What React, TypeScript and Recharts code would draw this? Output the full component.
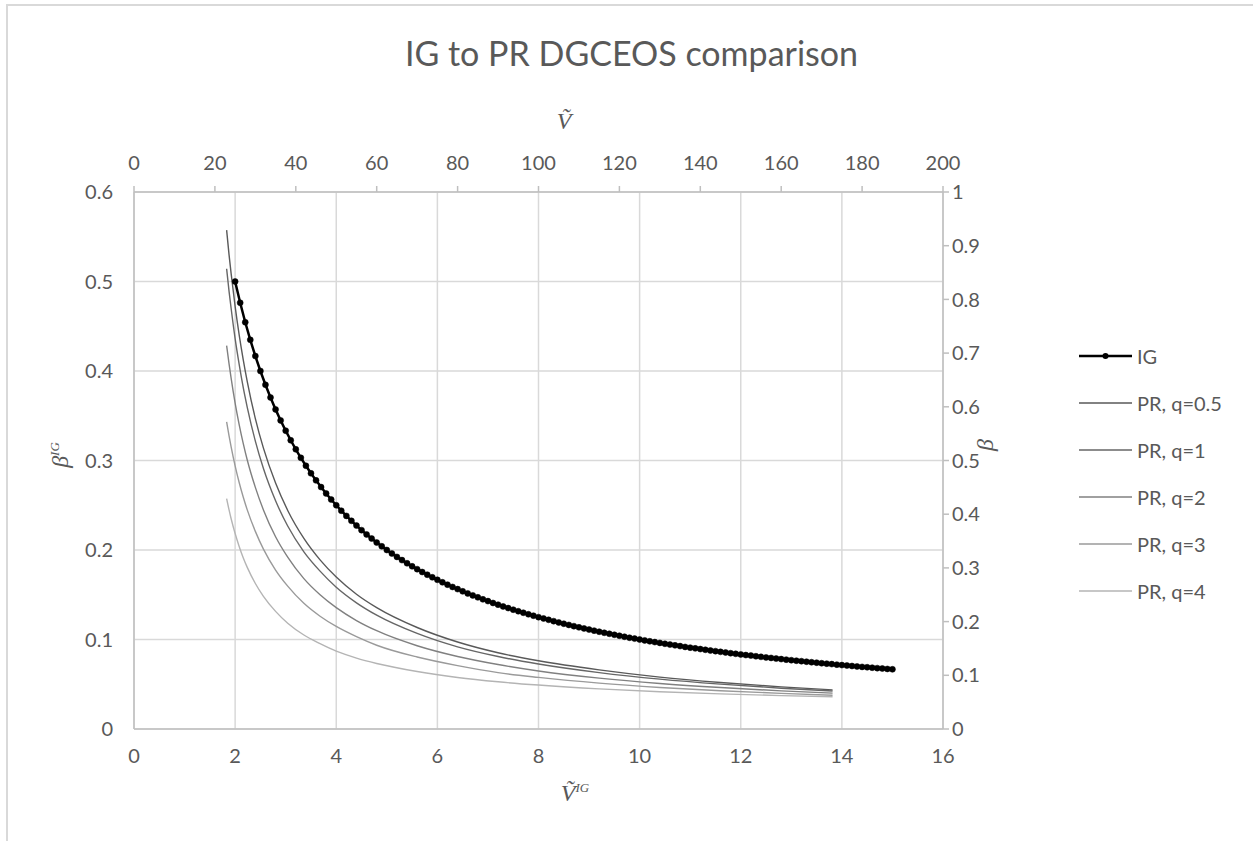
import { LineChart, Line, XAxis, YAxis, CartesianGrid } from "recharts";

// IG curve, bottom / left axes
const IG_V = [
  2.0, 2.1, 2.2, 2.3, 2.4, 2.5, 2.6, 2.7, 2.8, 2.9,
  3.0, 3.1, 3.2, 3.3, 3.4, 3.5, 3.6, 3.7, 3.8, 3.9,
  4.0, 4.1, 4.2, 4.3, 4.4, 4.5, 4.6, 4.7, 4.8, 4.9,
  5.0, 5.1, 5.2, 5.3, 5.4, 5.5, 5.6, 5.7, 5.8, 5.9,
  6.0, 6.1, 6.2, 6.3, 6.4, 6.5, 6.6, 6.7, 6.8, 6.9,
  7.0, 7.1, 7.2, 7.3, 7.4, 7.5, 7.6, 7.7, 7.8, 7.9,
  8.0, 8.1, 8.2, 8.3, 8.4, 8.5, 8.6, 8.7, 8.8, 8.9,
  9.0, 9.1, 9.2, 9.3, 9.4, 9.5, 9.6, 9.7, 9.8, 9.9,
  10.0, 10.1, 10.2, 10.3, 10.4, 10.5, 10.6, 10.7, 10.8, 10.9,
  11.0, 11.1, 11.2, 11.3, 11.4, 11.5, 11.6, 11.7, 11.8, 11.9,
  12.0, 12.1, 12.2, 12.3, 12.4, 12.5, 12.6, 12.7, 12.8, 12.9,
  13.0, 13.1, 13.2, 13.3, 13.4, 13.5, 13.6, 13.7, 13.8, 13.9,
  14.0, 14.1, 14.2, 14.3, 14.4, 14.5, 14.6, 14.7, 14.8, 14.9,
  15.0,
];
const IG_BETA = [
  0.5, 0.4762, 0.4545, 0.4348, 0.4167, 0.4, 0.3846, 0.3704, 0.3571, 0.3448,
  0.3333, 0.3226, 0.3125, 0.303, 0.2941, 0.2857, 0.2778, 0.2703, 0.2632, 0.2564,
  0.25, 0.2439, 0.2381, 0.2326, 0.2273, 0.2222, 0.2174, 0.2128, 0.2083, 0.2041,
  0.2, 0.1961, 0.1923, 0.1887, 0.1852, 0.1818, 0.1786, 0.1754, 0.1724, 0.1695,
  0.1667, 0.1639, 0.1613, 0.1587, 0.1563, 0.1538, 0.1515, 0.1493, 0.1471, 0.1449,
  0.1429, 0.1408, 0.1389, 0.137, 0.1351, 0.1333, 0.1316, 0.1299, 0.1282, 0.1266,
  0.125, 0.1235, 0.122, 0.1205, 0.119, 0.1176, 0.1163, 0.1149, 0.1136, 0.1124,
  0.1111, 0.1099, 0.1087, 0.1075, 0.1064, 0.1053, 0.1042, 0.1031, 0.102, 0.101,
  0.1, 0.099, 0.098, 0.0971, 0.0962, 0.0952, 0.0943, 0.0935, 0.0926, 0.0917,
  0.0909, 0.0901, 0.0893, 0.0885, 0.0877, 0.087, 0.0862, 0.0855, 0.0847, 0.084,
  0.0833, 0.0826, 0.082, 0.0813, 0.0806, 0.08, 0.0794, 0.0787, 0.0781, 0.0775,
  0.0769, 0.0763, 0.0758, 0.0752, 0.0746, 0.0741, 0.0735, 0.073, 0.0725, 0.0719,
  0.0714, 0.0709, 0.0704, 0.0699, 0.0694, 0.069, 0.0685, 0.068, 0.0676, 0.0671,
  0.0667,
];

// PR curves, top / right axes
const PR_V = [22.9, 23.5, 24, 25, 26, 27, 28, 30, 32, 35, 38, 42, 46, 50, 55, 60, 70, 80, 90, 100, 115, 130, 145, 160, 172.7];
const PR_Q05 = [0.929, 0.883, 0.849, 0.787, 0.734, 0.688, 0.647, 0.578, 0.523, 0.458, 0.407, 0.355, 0.315, 0.283, 0.251, 0.226, 0.189, 0.162, 0.142, 0.127, 0.11, 0.0966, 0.0865, 0.0784, 0.0728];
const PR_Q1 = [0.857, 0.815, 0.784, 0.727, 0.679, 0.636, 0.599, 0.536, 0.485, 0.425, 0.378, 0.33, 0.294, 0.264, 0.235, 0.212, 0.178, 0.153, 0.135, 0.121, 0.105, 0.0928, 0.0835, 0.076, 0.0708];
const PR_Q2 = [0.714, 0.68, 0.654, 0.607, 0.567, 0.532, 0.501, 0.45, 0.408, 0.358, 0.32, 0.28, 0.25, 0.226, 0.202, 0.183, 0.155, 0.135, 0.12, 0.108, 0.0947, 0.0848, 0.0772, 0.071, 0.0668];
const PR_Q3 = [0.572, 0.546, 0.526, 0.49, 0.459, 0.432, 0.408, 0.368, 0.335, 0.296, 0.266, 0.234, 0.21, 0.191, 0.172, 0.156, 0.134, 0.118, 0.105, 0.0961, 0.0854, 0.0774, 0.0712, 0.0663, 0.0628];
const PR_Q4 = [0.429, 0.408, 0.392, 0.364, 0.34, 0.319, 0.301, 0.271, 0.247, 0.219, 0.197, 0.175, 0.159, 0.145, 0.132, 0.122, 0.107, 0.0959, 0.0879, 0.0818, 0.0747, 0.0695, 0.0655, 0.0622, 0.06];

const PR_NAMES = ["PR, q=0.5", "PR, q=1", "PR, q=2", "PR, q=3", "PR, q=4"];
const PR_COLORS = ["#595959", "#666666", "#808080", "#9a9a9a", "#b4b4b4"];

const BOTTOM_TICKS = [0, 2, 4, 6, 8, 10, 12, 14, 16];
const LEFT_TICKS = [0, 0.1, 0.2, 0.3, 0.4, 0.5, 0.6];
const TOP_TICKS = [0, 20, 40, 60, 80, 100, 120, 140, 160, 180, 200];
const RIGHT_TICKS = [0, 0.1, 0.2, 0.3, 0.4, 0.5, 0.6, 0.7, 0.8, 0.9, 1];

const igData = IG_V.map((x, i) => ({ x, b: IG_BETA[i] }));
const prSeries = [PR_Q05, PR_Q1, PR_Q2, PR_Q3, PR_Q4].map((vals, k) => ({
  name: PR_NAMES[k],
  color: PR_COLORS[k],
  data: PR_V.map((v, i) => ({ v, beta: vals[i] })),
}));

const FONT = "Lato, 'Open Sans', sans-serif";
const TEXT = "#595959";
const AXIS = "#bfbfbf";
const tick = { fill: TEXT, fontSize: 20, fontFamily: FONT };

function Legend() {
  const rows = [{ name: "IG", color: "#000", ig: true }, ...prSeries.map((s) => ({ name: s.name, color: s.color, ig: false }))];
  return (
    <div style={{ position: "absolute", left: 1079, top: 332 }}>
      {rows.map((r) => (
        <div key={r.name} style={{ display: "flex", alignItems: "center", height: 47 }}>
          <svg width={54} height={12}>
            <line x1={0} y1={6} x2={53} y2={6} stroke={r.color} strokeWidth={r.ig ? 2.5 : 1.5} />
            {r.ig && <circle cx={26.5} cy={6} r={3} fill="#000" />}
          </svg>
          <span style={{ marginLeft: 4, fontSize: 20, color: TEXT, fontFamily: FONT }}>{r.name}</span>
        </div>
      ))}
    </div>
  );
}

export default function App() {
  const serif = { fontFamily: "'Liberation Serif', 'DejaVu Serif', serif", fontStyle: "italic", color: TEXT };
  return (
    <div style={{ position: "absolute", left: 0, top: 0, width: 1253, height: 841, overflow: "hidden", background: "#fff" }}>
      <div style={{ position: "absolute", left: 6, top: 4, width: 1400, height: 1000, borderLeft: "2px solid #d9d9d9", borderTop: "2px solid #d9d9d9" }} />
      <div style={{ position: "absolute", left: 0, top: 33, width: 1263, textAlign: "center", fontSize: 34, lineHeight: "40px", color: TEXT, fontFamily: FONT }}>
        IG to PR DGCEOS comparison
      </div>
      <div style={{ position: "absolute", left: 0, top: 0 }}>
        <LineChart width={1253} height={841} margin={{ top: 152, right: 250, bottom: 72, left: 74 }}>
          <CartesianGrid xAxisId="bottom" yAxisId="left" stroke="#d9d9d9" strokeWidth={1.5} />
          <XAxis
            xAxisId="bottom"
            dataKey="x"
            type="number"
            domain={[0, 16]}
            ticks={BOTTOM_TICKS}
            height={40}
            stroke={AXIS}
            strokeWidth={1.5}
            tickLine={false}
            tickSize={0}
            tickMargin={20}
            tick={tick}
            allowDataOverflow
          />
          <XAxis
            xAxisId="top"
            orientation="top"
            dataKey="v"
            type="number"
            domain={[0, 200]}
            ticks={TOP_TICKS}
            height={40}
            stroke={AXIS}
            strokeWidth={1.5}
            tickSize={6}
            tickMargin={16}
            tick={tick}
            allowDataOverflow
          />
          <YAxis
            yAxisId="left"
            type="number"
            domain={[0, 0.6]}
            ticks={LEFT_TICKS}
            width={60}
            stroke={AXIS}
            strokeWidth={1.5}
            tickLine={false}
            tickSize={0}
            tickMargin={21}
            tick={tick}
            allowDataOverflow
          />
          <YAxis
            yAxisId="right"
            orientation="right"
            type="number"
            domain={[0, 1]}
            ticks={RIGHT_TICKS}
            width={60}
            stroke={AXIS}
            strokeWidth={1.5}
            tickSize={6}
            tickMargin={3}
            tick={tick}
            allowDataOverflow
          />
          {prSeries.map((s) => (
            <Line
              key={s.name}
              xAxisId="top"
              yAxisId="right"
              data={s.data}
              dataKey="beta"
              name={s.name}
              type="monotone"
              stroke={s.color}
              strokeWidth={1.4}
              dot={false}
              isAnimationActive={false}
            />
          ))}
          <Line
            xAxisId="bottom"
            yAxisId="left"
            data={igData}
            dataKey="b"
            name="IG"
            type="linear"
            stroke="#000"
            strokeWidth={2.5}
            dot={{ r: 3, fill: "#000", stroke: "#000", strokeWidth: 0.5 }}
            isAnimationActive={false}
          />
        </LineChart>
      </div>
      <div style={{ ...serif, position: "absolute", left: 564 - 20, top: 108, width: 40, textAlign: "center", fontSize: 24 }}>Ṽ</div>
      <div style={{ ...serif, position: "absolute", left: 575 - 40, top: 780, width: 80, textAlign: "center", fontSize: 24 }}>
        Ṽ<sup style={{ fontSize: 13 }}>IG</sup>
      </div>
      <div style={{ ...serif, position: "absolute", left: 62 - 40, top: 455 - 15, width: 80, height: 30, textAlign: "center", fontSize: 24, transform: "rotate(-90deg)" }}>
        β<sup style={{ fontSize: 13 }}>IG</sup>
      </div>
      <div style={{ ...serif, position: "absolute", left: 987 - 20, top: 445 - 15, width: 40, height: 30, textAlign: "center", fontSize: 24, transform: "rotate(-90deg)" }}>β</div>
      <Legend />
    </div>
  );
}
